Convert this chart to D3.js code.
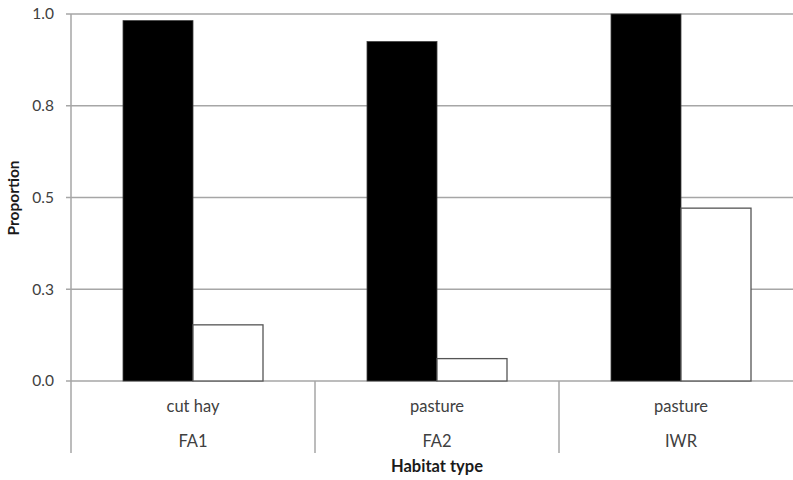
<!DOCTYPE html>
<html>
<head>
<meta charset="utf-8">
<script src="https://cdn.jsdelivr.net/npm/d3@7"></script>
<style>
  body { margin: 0; background: #fff; }
  svg { display: block; }
  text { font-family: Lato, "Open Sans", sans-serif; }
</style>
</head>
<body>
<svg id="chart" width="793" height="480"></svg>
<script>
const sites = ["FA1", "FA2", "IWR"];
const habitats = ["cut hay", "pasture", "pasture"];
const seriesNames = ["black", "white"];
const blackValues = [0.982, 0.925, 1.0];
const whiteValues = [0.153, 0.061, 0.471];
const tickValues = [0, 0.25, 0.5, 0.75, 1.0];
const tickLabels = ["0.0", "0.3", "0.5", "0.8", "1.0"];
const yTitle = "Proportion";
const xTitle = "Habitat type";

const svg = d3.select("#chart");
const mLeft = 71, mRight = 803, mTop = 14, mBottom = 381;

const x = d3.scaleBand().domain(sites).range([mLeft, mRight])
  .paddingInner(104 / 244).paddingOuter(52 / 244);
const xs = d3.scaleBand().domain(seriesNames).range([0, x.bandwidth()]);
const y = d3.scaleLinear().domain([0, 1]).range([mBottom, mTop]);

// gridlines
svg.append("g").selectAll("line").data(tickValues).join("line")
  .attr("x1", mLeft - 5).attr("x2", mRight)
  .attr("y1", d => y(d)).attr("y2", d => y(d))
  .attr("stroke", "#a6a6a6").attr("stroke-width", 1.5);

// y axis
const yAxis = d3.axisLeft(y).tickValues(tickValues)
  .tickFormat((d, i) => tickLabels[i]).tickSize(0).tickPadding(17);
const ya = svg.append("g").attr("transform", `translate(${mLeft},0)`).call(yAxis);
ya.select(".domain").remove();
ya.selectAll("text").attr("font-size", 15.5).attr("fill", "#404040")
  .style("font-family", "Lato, sans-serif");

// vertical axis line
svg.append("line").attr("x1", mLeft).attr("x2", mLeft)
  .attr("y1", mTop).attr("y2", 453)
  .attr("stroke", "#a6a6a6").attr("stroke-width", 1.5);

// category separators
const step = x.step();
svg.append("g").selectAll("line").data(sites.slice(1)).join("line")
  .attr("x1", d => x(d) - x.paddingInner() * step / 2)
  .attr("x2", d => x(d) - x.paddingInner() * step / 2)
  .attr("y1", mBottom).attr("y2", 453)
  .attr("stroke", "#a6a6a6").attr("stroke-width", 1.5);

// bars
const g = svg.append("g");
g.selectAll("rect.black").data(blackValues).join("rect")
  .attr("class", "black")
  .attr("x", (d, i) => x(sites[i]) + xs("black"))
  .attr("width", xs.bandwidth())
  .attr("y", d => y(d)).attr("height", d => y(0) - y(d))
  .attr("fill", "#000").attr("stroke", "#404040").attr("stroke-width", 0.8);
g.selectAll("rect.white").data(whiteValues).join("rect")
  .attr("class", "white")
  .attr("x", (d, i) => x(sites[i]) + xs("white"))
  .attr("width", xs.bandwidth())
  .attr("y", d => y(d)).attr("height", d => y(0) - y(d))
  .attr("fill", "#fff").attr("stroke", "#555").attr("stroke-width", 1.3);

// category labels
svg.append("g").selectAll("text").data(habitats).join("text")
  .attr("x", (d, i) => x(sites[i]) + x.bandwidth() / 2)
  .attr("y", 412).attr("text-anchor", "middle")
  .attr("font-size", 16.5).attr("fill", "#404040").text(d => d);
svg.append("g").selectAll("text").data(sites).join("text")
  .attr("x", d => x(d) + x.bandwidth() / 2)
  .attr("y", 447).attr("text-anchor", "middle")
  .attr("font-size", 16.5).attr("fill", "#404040").text(d => d);

// titles
svg.append("text").attr("x", (mLeft + mRight) / 2).attr("y", 472)
  .attr("text-anchor", "middle").attr("font-size", 16.5).attr("font-weight", "bold")
  .attr("fill", "#1a1a1a").text(xTitle);
svg.append("text").attr("transform", `translate(19,198) rotate(-90)`)
  .attr("text-anchor", "middle").attr("font-size", 15.5).attr("font-weight", "bold")
  .attr("fill", "#1a1a1a").text(yTitle);
</script>
</body>
</html>
